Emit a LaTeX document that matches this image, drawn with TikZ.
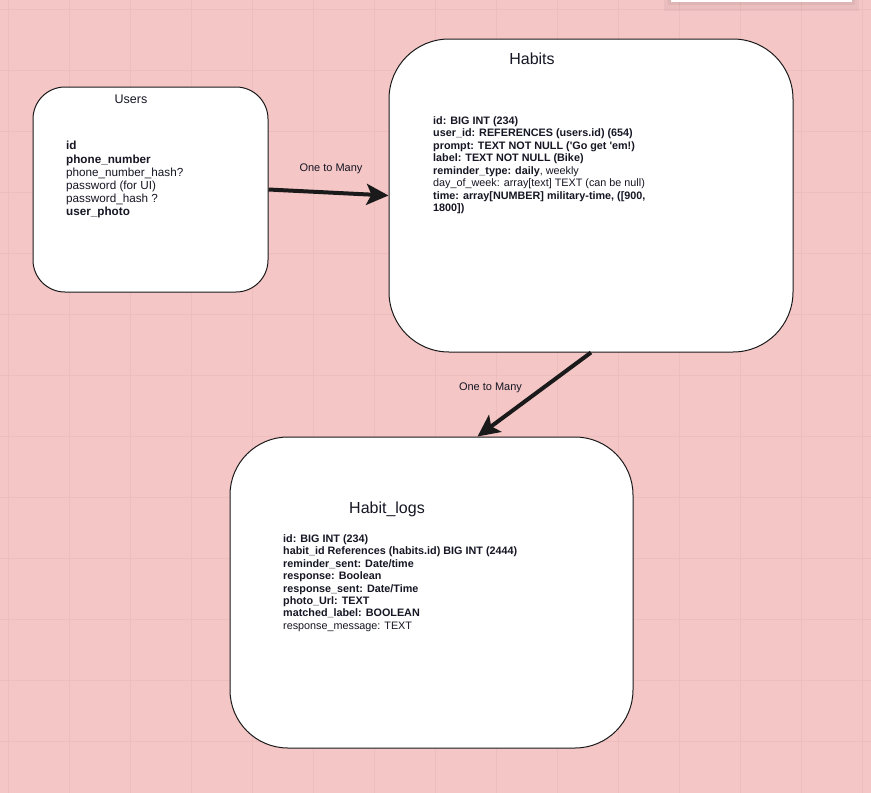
\documentclass[tikz,border=0pt]{standalone}
\usepackage{fontspec}
\setmainfont{Liberation Sans}
\usepackage{xcolor}
\usepackage{tikz}
\usetikzlibrary{arrows.meta,positioning,calc}
\definecolor{canvaspink}{RGB}{244,198,198}
\definecolor{gridpink}{RGB}{238,189,189}
\definecolor{inkblack}{RGB}{26,26,26}
\definecolor{textdark}{RGB}{22,22,36}

\begin{document}
\begin{tikzpicture}[x=1pt, y=-1pt,
    table/.style={draw=inkblack, line width=1pt, fill=white, inner sep=0pt},
    tabletitle/.style={anchor=base, text=textdark, inner sep=0pt},
    fields/.style={anchor=base west, align=left, text=textdark, inner sep=0pt},
    relation/.style={draw=inkblack, line width=4pt, -{Stealth[length=22pt, width=21pt, inset=5pt]}},
    reltext/.style={anchor=base, text=textdark, inner sep=0pt, font=\fontsize{11}{13}\selectfont}]
    % Canvas and grid
    \useasboundingbox (0,0) rectangle (871,793);
    \fill[canvaspink] (0,0) rectangle (871,793);
    \foreach \x in {8,69,...,871} {
        \draw[gridpink, line width=0.7pt] (\x,0) -- (\x,793);
    }
    \foreach \y in {9,70,...,793} {
        \draw[gridpink, line width=0.7pt] (0,\y) -- (871,\y);
    }
    % Cut-off panel at the top
    \fill[black, opacity=0.04] (664,0) rectangle (859,11);
    \fill[black, opacity=0.05] (668,0) rectangle (855,5);
    \fill[white] (671,0) rectangle (852,1.5);

    % Tables
    \node[table, minimum width=235pt, minimum height=205pt, rounded corners=32pt] (users) at (150.5,189.5) {};
    \node[table, minimum width=404pt, minimum height=313pt, rounded corners=60pt] (habits) at (591,195.5) {};
    \node[table, minimum width=403pt, minimum height=311pt, rounded corners=58pt] (logs) at (431.5,592.5) {};

    % Users
    \node[tabletitle, font=\fontsize{12.5}{14}\selectfont] (userstitle) at (131,103.7) {Users};
    \node[fields, font=\fontsize{11.7}{13.15}\selectfont] (usersfields) at (66,215.7) {\textbf{id}\\
        \textbf{phone\_number}\\
        phone\_number\_hash?\\
        password (for UI)\\
        password\_hash ?\\
        \textbf{user\_photo}};

    % Habits
    \node[tabletitle, font=\fontsize{16}{18}\selectfont] (habitstitle) at (532,64) {Habits};
    \node[fields, font=\fontsize{10.8}{12.5}\selectfont] (habitsfields) at (433,211.7) {\textbf{id: BIG INT (234)}\\
        \textbf{user\_id: REFERENCES (users.id) (654)}\\
        \textbf{prompt: TEXT NOT NULL (\textquotesingle Go get \textquotesingle em!)}\\
        \textbf{label: TEXT NOT NULL (Bike)}\\
        \textbf{reminder\_type: daily}, weekly\\
        day\_of\_week: array[text] TEXT (can be null)\\
        \textbf{time: array[NUMBER] military-time, ([900,}\\
        \textbf{1800])}};

    % Habit_logs
    \node[tabletitle, font=\fontsize{16}{18}\selectfont] (logstitle) at (387,513) {Habit\_logs};
    \node[fields, font=\fontsize{10.8}{12.43}\selectfont] (logsfields) at (283,629.3) {\textbf{id: BIG INT (234)}\\
        \textbf{habit\_id References (habits.id) BIG INT (2444)}\\
        \textbf{reminder\_sent: Date/time}\\
        \textbf{response: Boolean}\\
        \textbf{response\_sent: Date/Time}\\
        \textbf{photo\_Url: TEXT}\\
        \textbf{matched\_label: BOOLEAN}\\
        response\_message: TEXT};

    % Relations
    \draw[relation] (users.east) -- (habits.west);
    \node[reltext] (rel1) at (331,171.7) {One to Many};
    \draw[relation] (habits.south) -- ([xshift=46pt]logs.north);
    \node[reltext] (rel2) at (490.5,390) {One to Many};
\end{tikzpicture}
\end{document}
